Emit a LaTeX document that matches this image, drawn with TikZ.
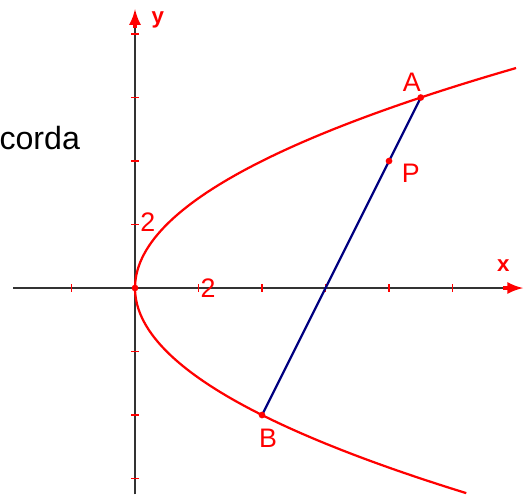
\documentclass[tikz,border=0pt]{standalone}
\usepackage{fontspec}
\setmainfont{Liberation Sans}
\usepackage{tikz}
\usetikzlibrary{arrows}

\begin{document}
\begin{tikzpicture}[x=5mm, y=5mm,
		>=latex,   %Pfeilspitzen
		punkt/.style={circle, fill=red, inner sep=0pt, minimum size=3pt},
		font=\large, scale=1]
		%Bildbereich festlegen
		\useasboundingbox (-4.252,-6.583) rectangle (12.472,9.071);
		% Achsen zeichnen
		\draw[gray!40!black, line width=1pt] (-3.84,0) -- (12.1,0);
		\draw[gray!40!black, line width=1pt] (0,-6.5) -- (0,8.7);
		\draw[->, red, line width=1.4pt] (11.6,0) -- (12.22,0);
		\draw[->, red, line width=1.4pt] (0,8.2) -- (0,8.78);
		\node[red, font=\bfseries] (xlab) at (11.6,0.72) {x};
		\node[red, font=\bfseries] (ylab) at (0.72,8.44) {y};
		% Achsen beschriften
		\foreach \x in {-2,2,4,...,10} \draw[red, line width=0.8pt] (\x,-.12) -- (\x,.12);
		\foreach \y in {-6,-4,-2,2,4,...,8} \draw[red, line width=0.8pt] (-.12,\y) -- (.12,\y);
		\node[red] (zwei x) at (2.3,0) {2};
		\node[red] (zwei y) at (0.4,2.08) {2};
		% Parabel zeichnen
		\draw[red, line width=1pt, domain=-6.46:6.93, samples=100, smooth] plot ({\x*\x/4},\x);
		% Sehne
		\coordinate (A) at (9,6);
		\coordinate (B) at (4,-4);
		\coordinate (P) at (8,4);
		\draw[blue!50!black, line width=1pt] (A) -- (B);
		\node[punkt] (O) at (0,0) {};
		\node[punkt] at (A) {};
		\node[punkt] at (B) {};
		\node[punkt] at (P) {};
		%Beschriftung
		\node[red] (labA) at (8.72,6.49) {A};
		\node[red] (labP) at (8.69,3.62) {P};
		\node[red] (labB) at (4.19,-4.72) {B};
		\node (corda) at (-3.0,4.72) {\Large corda};
	\end{tikzpicture}
\end{document}
